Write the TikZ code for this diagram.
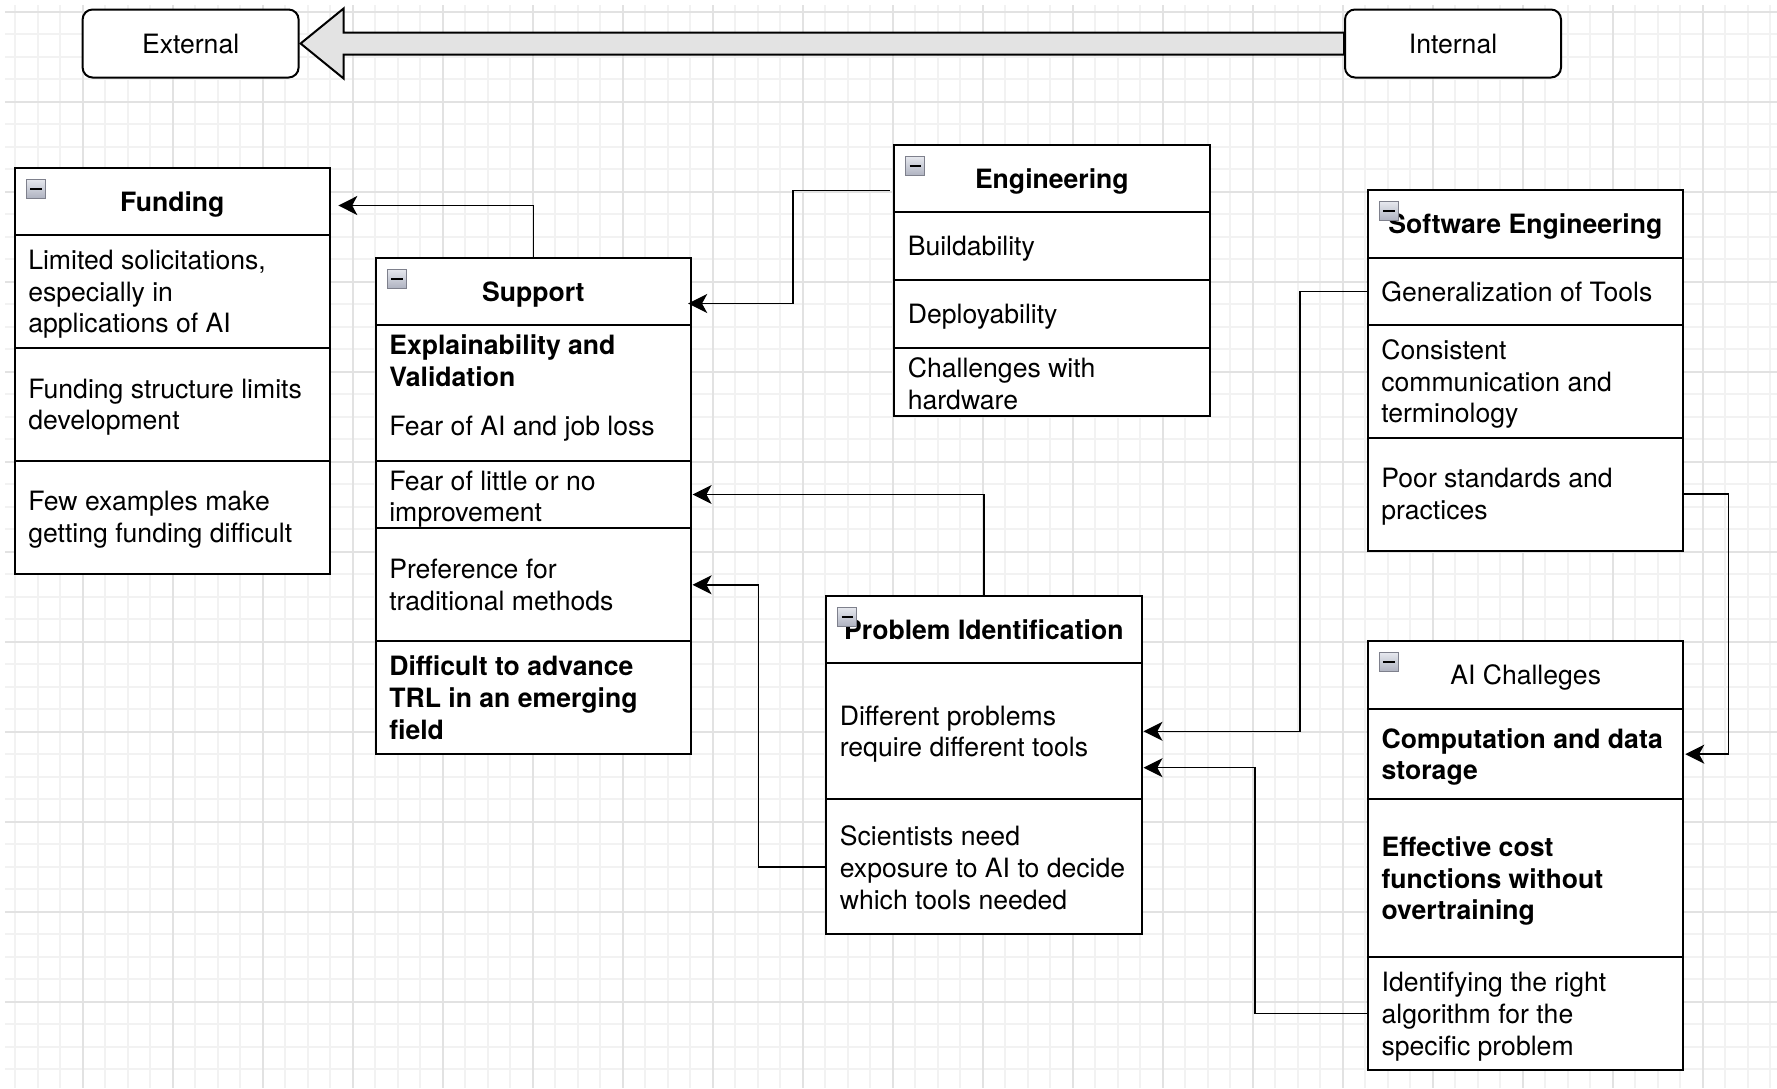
\documentclass[tikz,border=0pt]{standalone}
\usepackage{fontspec}
\setmainfont{TeX Gyre Heros}
\usetikzlibrary{arrows.meta,calc}
\definecolor{gridmajor}{HTML}{E2E2E2}
\definecolor{gridminor}{HTML}{F2F2F2}
\definecolor{icontop}{HTML}{E6E8EE}
\definecolor{iconbot}{HTML}{AEB2C0}
\definecolor{iconedge}{HTML}{7E808C}
\definecolor{arrowfill}{HTML}{E3E3E3}
\newcommand\dfs{\fontsize{13.3pt}{15.85pt}\selectfont}
\tikzset{
  pill/.style={draw, line width=1pt, fill=white, rounded corners=5pt, minimum width=108pt, minimum height=34pt, inner sep=0pt, font=\dfs},
  cell/.style={draw, line width=1pt, fill=white, anchor=north west, minimum width=157.65pt, inner sep=0pt, outer sep=0pt},
  headcell/.style={cell, font=\dfs\bfseries, text depth=0pt},
  txt/.style={anchor=west, align=left, inner sep=0pt, font=\dfs},
  btxt/.style={txt, font=\dfs\bfseries},
  dsc/.style={yshift=-1.4pt},
  icon/.style={anchor=north west, draw=iconedge, line width=0.6pt, top color=icontop, bottom color=iconbot, minimum size=9.5pt, inner sep=0pt,
    path picture={\draw[black, line width=1pt] ([xshift=-2.9pt]path picture bounding box.center) -- ([xshift=2.9pt]path picture bounding box.center);}},
  conn/.style={draw, line width=0.75pt, -{Stealth[length=9.5pt, width=9.5pt, inset=2.6pt]}},
  bigarrow/.style={draw, line width=1pt, fill=arrowfill, line join=miter},
  gridminorline/.style={draw=gridminor, line width=0.8pt},
  gridmajorline/.style={draw=gridmajor, line width=0.8pt},
}
\begin{document}
\begin{tikzpicture}[x=0.5pt, y=-0.5pt]
\useasboundingbox (0,0) rectangle (1777,1088);
\fill[white] (0,0) rectangle (1777,1088);
% grid
\begin{scope}
\clip (5,5) rectangle (1777,1088);
\foreach \i in {0,...,78} { \draw[gridminorline] ({15.2+22.5*\i},5) -- ({15.2+22.5*\i},1088); }
\foreach \j in {0,...,47} { \draw[gridminorline] (5,{11.7+22.5*\j}) -- (1777,{11.7+22.5*\j}); }
\foreach \i in {0,...,18} { \draw[gridmajorline] ({82.7+90*\i},5) -- ({82.7+90*\i},1088); }
\foreach \j in {0,...,11} { \draw[gridmajorline] (5,{11.7+90*\j}) -- (1777,{11.7+90*\j}); }
\end{scope}

% External / Internal
\node[pill] (ext) at (190.6,43.5) {External};
\node[pill] (int) at (1453,43.5) {Internal};
\draw[bigarrow] ([xshift=0.5pt]ext.east) -- ++(43,-35) -- ++(0,24) -- ([yshift=5.5pt]int.west) -- ([yshift=-5.5pt]int.west) -- ($([xshift=0.5pt]ext.east)+(43,11)$) -- ++(0,24) -- cycle;

% Funding
\node[headcell, minimum height=33.8pt] (fh) at (14.7,167.7) {Funding};
\node[cell, minimum height=56.35pt] (f1) at (fh.south west) {};
\node[cell, minimum height=56.4pt] (f2) at (f1.south west) {};
\node[cell, minimum height=56.35pt] (f3) at (f2.south west) {};
\node[txt, dsc] (f1t) at ([xshift=6.6pt]f1.west) {Limited solicitations,\\especially in\\applications of AI};
\node[txt, dsc] (f2t) at ([xshift=6.6pt]f2.west) {Funding structure limits\\development};
\node[txt, dsc] (f3t) at ([xshift=6.6pt]f3.west) {Few examples make\\getting funding difficult};
\node[icon] (fic) at ([xshift=5.5pt,yshift=-5.5pt]fh.north west) {};

% Support
\node[headcell, minimum height=33.8pt] (sh) at (375.7,257.7) {Support};
\node[cell, minimum height=67.7pt] (s1) at (sh.south west) {};
\node[cell, minimum height=33.8pt] (s2) at (s1.south west) {};
\node[cell, minimum height=56.5pt] (s3) at (s2.south west) {};
\node[cell, minimum height=56.35pt] (s4) at (s3.south west) {};
\node[btxt] (s1a) at ([xshift=6.6pt,yshift=16.3pt]s1.west) {Explainability and\\Validation};
\node[txt, dsc] (s1b) at ([xshift=6.6pt,yshift=-16.5pt]s1.west) {Fear of AI and job loss};
\node[txt] (s2t) at ([xshift=6.6pt,yshift=-2.4pt]s2.west) {Fear of little or no\\improvement};
\node[txt] (s3t) at ([xshift=6.6pt]s3.west) {Preference for\\traditional methods};
\node[btxt] (s4t) at ([xshift=6.6pt]s4.west) {Difficult to advance\\TRL in an emerging\\field};
\node[icon] (sic) at ([xshift=5.5pt,yshift=-5.5pt]sh.north west) {};

% Engineering
\node[headcell, minimum height=33.65pt] (eh) at (894.2,145) {Engineering};
\node[cell, minimum height=34pt] (e1) at (eh.south west) {};
\node[cell, minimum height=34pt] (e2) at (e1.south west) {};
\node[cell, minimum height=34pt] (e3) at (e2.south west) {};
\node[txt, dsc] (e1t) at ([xshift=6.6pt]e1.west) {Buildability};
\node[txt, dsc] (e2t) at ([xshift=6.6pt]e2.west) {Deployability};
\node[txt] (e3t) at ([xshift=6.6pt,yshift=-0.6pt]e3.west) {Challenges with\\hardware};
\node[icon] (eic) at ([xshift=5.5pt,yshift=-5.5pt]eh.north west) {};

% Software Engineering
\node[headcell, minimum height=33.85pt] (seh) at (1367.7,190) {Software Engineering};
\node[cell, minimum height=33.65pt] (se1) at (seh.south west) {};
\node[cell, minimum height=56.35pt] (se2) at (se1.south west) {};
\node[cell, minimum height=56.5pt] (se3) at (se2.south west) {};
\node[txt] (se1t) at ([xshift=6.6pt]se1.west) {Generalization of Tools};
\node[txt, dsc] (se2t) at ([xshift=6.6pt]se2.west) {Consistent\\communication and\\terminology};
\node[txt, dsc] (se3t) at ([xshift=6.6pt]se3.west) {Poor standards and\\practices};
\node[icon] (seic) at ([xshift=5.5pt,yshift=-5.5pt]seh.north west) {};

% Problem Identification
\node[headcell, minimum height=33.8pt] (pih) at (826.2,595.7) {Problem Identification};
\node[cell, minimum height=68pt] (pi1) at (pih.south west) {};
\node[cell, minimum height=67.5pt] (pi2) at (pi1.south west) {};
\node[txt, dsc] (pi1t) at ([xshift=6.6pt]pi1.west) {Different problems\\require different tools};
\node[txt] (pi2t) at ([xshift=6.6pt,yshift=-0.5pt]pi2.west) {Scientists need\\exposure to AI to decide\\which tools needed};
\node[icon] (piic) at ([xshift=5.5pt,yshift=-5.5pt]pih.north west) {};

% AI Challeges
\node[headcell, minimum height=34pt, font=\dfs] (aih) at (1368,641) {AI Challeges};
\node[cell, minimum height=45.15pt] (ai1) at (aih.south west) {};
\node[cell, minimum height=79pt] (ai2) at (ai1.south west) {};
\node[cell, minimum height=56.35pt] (ai3) at (ai2.south west) {};
\node[btxt, dsc] (ai1t) at ([xshift=6.6pt]ai1.west) {Computation and data\\storage};
\node[btxt, dsc] (ai2t) at ([xshift=6.6pt]ai2.west) {Effective cost\\functions without\\overtraining};
\node[txt, dsc] (ai3t) at ([xshift=6.6pt]ai3.west) {Identifying the right\\algorithm for the\\specific problem};
\node[icon] (aiic) at ([xshift=5.5pt,yshift=-5.5pt]aih.north west) {};

% connectors
\draw[conn] (sh.north) |- ([xshift=4.15pt,yshift=-2pt]fh.east);
\draw[conn] ([xshift=-2.2pt,yshift=-5.8pt]eh.west) -- ++(-97,0) |- ([xshift=-1.4pt,yshift=-6pt]sh.east);
\draw[conn] (pih.north) |- ([xshift=0.8pt]s2.east);
\draw[conn] (pi2.west) -- ++(-67.7,0) |- ([xshift=0.8pt]s3.east);
\draw[conn] (se1.west) -- ++(-67.5,0) |- ([xshift=1pt]pi1.east);
\draw[conn] (ai3.west) -- ++(-112.8,0) |- ([xshift=1pt,yshift=-18.2pt]pi1.east);
\draw[conn] (se3.east) -- ++(45.3,0) |- ([xshift=1pt]ai1.east);
\end{tikzpicture}
\end{document}
